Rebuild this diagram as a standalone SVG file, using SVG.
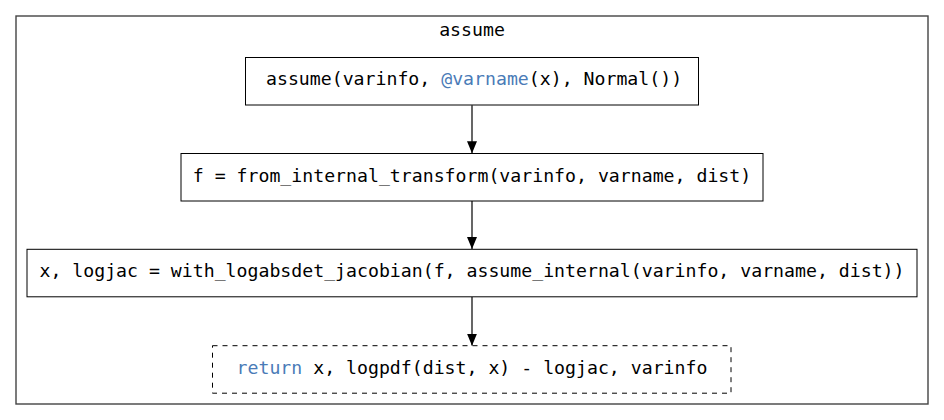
<svg xmlns="http://www.w3.org/2000/svg" width="944" height="420" viewBox="0 0 944 420">
<defs>
<style>
text{font-family:"DejaVu Sans Mono","Liberation Mono",monospace;font-size:18.2px;fill:#000}
.kw{fill:#4a7bb7}
.node rect{fill:#fff;stroke:#000;stroke-width:1}
.edge line{stroke:#000;stroke-width:1.2}
</style>
<marker id="ah" viewBox="0 0 12 10" refX="12" refY="5" markerWidth="12" markerHeight="10" markerUnits="userSpaceOnUse" orient="auto">
<path d="M0,0 L12,5 L0,10 Z" fill="#000"/>
</marker>
</defs>
<rect width="944" height="420" fill="#fff"/>
<g id="cluster_assume">
<rect x="16" y="16" width="912" height="388" fill="none" stroke="#444" stroke-width="1.4"/>
<text x="472" y="36" text-anchor="middle">assume</text>
</g>
<g class="edge" id="edges">
<line x1="472" y1="105.3" x2="472" y2="153.3" marker-end="url(#ah)"/>
<line x1="472" y1="201" x2="472" y2="249" marker-end="url(#ah)"/>
<line x1="472" y1="297" x2="472" y2="345.7" marker-end="url(#ah)"/>
</g>
<g class="node" id="n_assume">
<rect x="245.5" y="57.5" width="453" height="47.5"/>
<text x="266" y="85">assume(varinfo, <tspan class="kw">@varname</tspan>(x), Normal())</text>
</g>
<g class="node" id="n_from_internal">
<rect x="181" y="153.5" width="582" height="47.5"/>
<text x="472" y="181.7" text-anchor="middle">f = from_internal_transform(varinfo, varname, dist)</text>
</g>
<g class="node" id="n_logjac">
<rect x="27" y="249.3" width="890" height="47.5"/>
<text x="472" y="277" text-anchor="middle">x, logjac = with_logabsdet_jacobian(f, assume_internal(varinfo, varname, dist))</text>
</g>
<g class="node" id="n_return">
<rect x="212.5" y="345.7" width="518.5" height="47.5" stroke-dasharray="5,5"/>
<text x="472" y="374" text-anchor="middle"><tspan class="kw">return</tspan> x, logpdf(dist, x) - logjac, varinfo</text>
</g>
</svg>
